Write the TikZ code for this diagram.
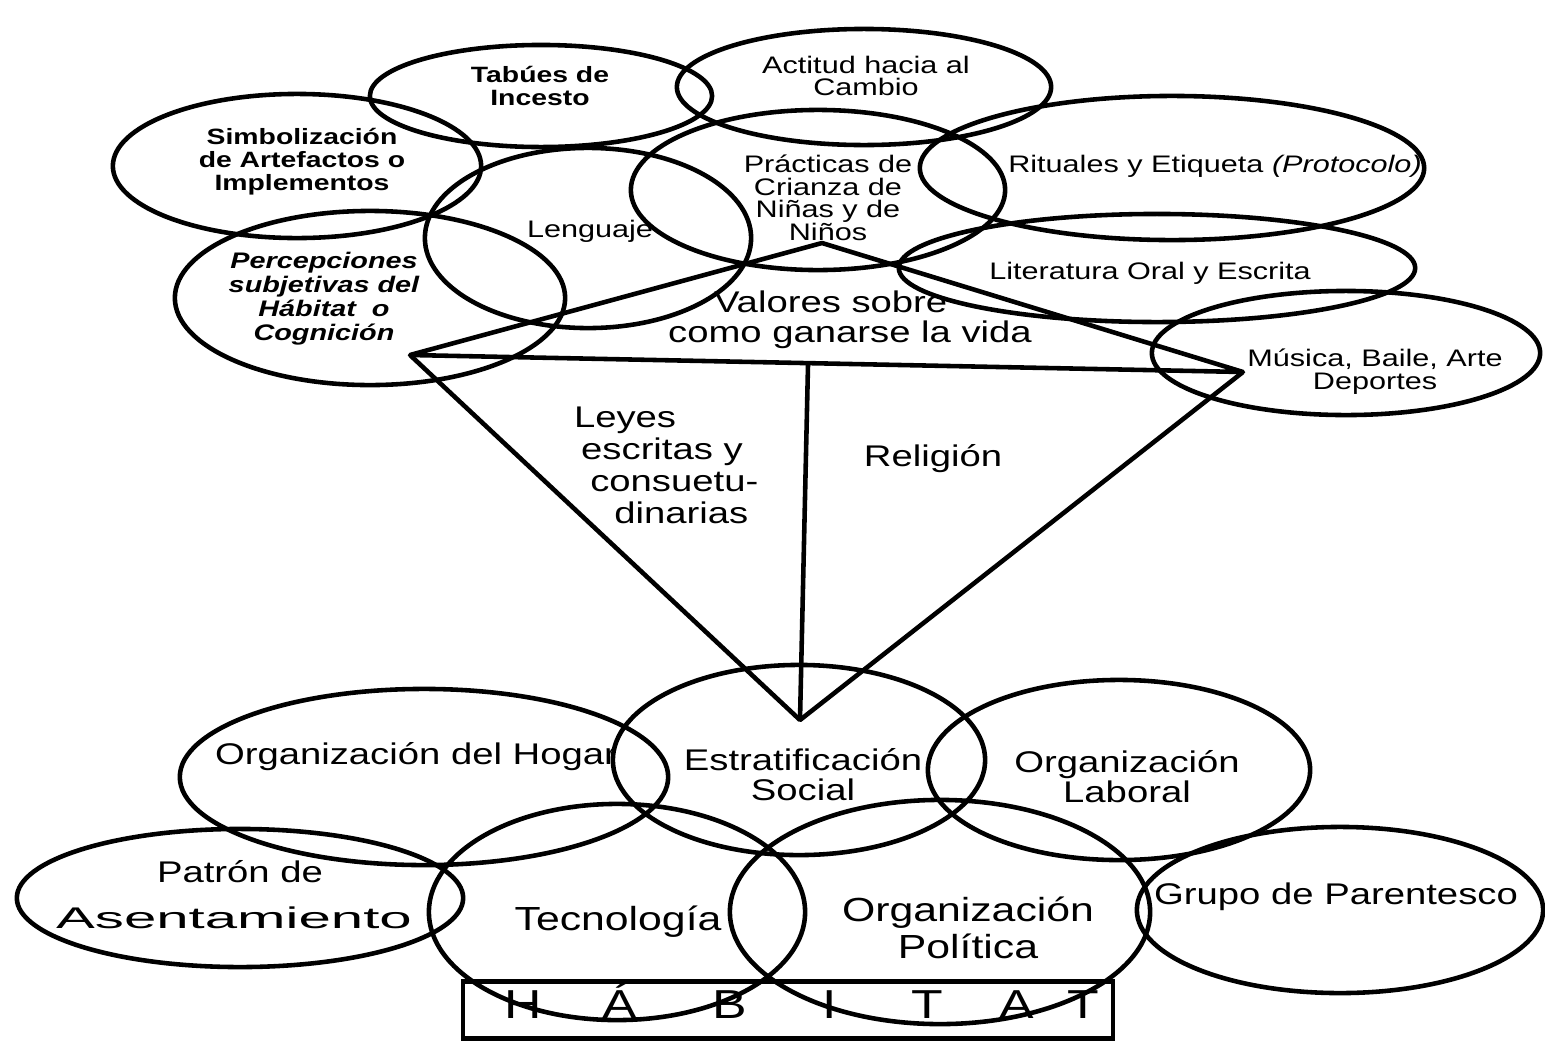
\documentclass[tikz,border=0pt]{standalone}
\usepackage{graphicx}
\usepackage{fontspec}
\setmainfont{Liberation Sans}
\newfontfamily\wfont[FakeStretch=1.28]{Liberation Sans}
\usetikzlibrary{shapes.geometric}

\begin{document}
\begin{tikzpicture}[x=0.01cm, y=-0.01cm,
    oval/.style 2 args={draw, ellipse, line width=1.3pt, minimum width=#1*0.02cm, minimum height=#2*0.02cm, inner sep=0pt},
    tiny/.style={font=\wfont\fontsize{6.8}{6.4}\selectfont, align=center, inner sep=0pt},
    tinyb/.style={font=\wfont\bfseries\fontsize{6.3}{6.5}\selectfont, align=center, inner sep=0pt},
    lbl/.style={font=\wfont\fontsize{8.5}{8.6}\selectfont, align=center, inner sep=0pt},
    lblbig/.style={font=\wfont\fontsize{9.5}{10.5}\selectfont, align=center, inner sep=0pt},
    hab/.style={font=\wfont\fontsize{11.5}{12}\selectfont, inner sep=0pt, anchor=base},
    tri/.style={line width=1.3pt, line join=round}
]
\useasboundingbox (0,0) rectangle (1545,1048);

% ovalos de arriba
\node[oval={171}{51}] (tabues) at (541,96) {};
\node[oval={187}{58}] (actitud) at (864,87) {};
\node[oval={184}{72}] (simbol) at (297,166) {};
\node[oval={195}{87}] (percep) at (370,298) {};
\node[oval={163}{90}] (lengua) at (588,238) {};
\node[oval={187}{80}] (crianza) at (818,190) {};
\node[oval={252}{72}] (ritual) at (1172,168) {};
\node[oval={258}{54}] (litera) at (1157,268) {};
\node[oval={194}{62}] (musica) at (1346,353) {};

\node[tinyb] (t-tabues) at (540,86) {Tabúes de\\Incesto};
\node[tiny] (t-actitud) at (866,76) {Actitud hacia al\\Cambio};
\node[tinyb] (t-simbol) at (302,162) {Simbolización\\de Artefactos o\\Implementos};
\node[tinyb, font=\wfont\bfseries\itshape\fontsize{6.4}{6.8}\selectfont] (t-percep) at (324,299) {Percepciones\\subjetivas del\\Hábitat\ \ o\\Cognición};
\node[tiny] (t-lengua) at (590,231) {Lenguaje};
\node[tiny] (t-crianza) at (828,198) {Prácticas de\\Crianza de\\Niñas y de\\Niños};
\node[tiny] (t-ritual) at (1215,166) {Rituales y Etiqueta \textit{(Protocolo)}};
\node[tiny] (t-litera) at (1150,273) {Literatura Oral y Escrita};
\node[tiny, font=\wfont\fontsize{6.8}{5.2}\selectfont] (t-musica) at (1375,372) {Música, Baile, Arte\\Deportes};

% triangulo
\coordinate (tl) at (410,355);
\coordinate (tr) at (1243,372);
\coordinate (roof) at (822,243);
\coordinate (apex) at (800,720);
\coordinate (mid) at (808,365);
\draw[tri] (tl) -- (roof) -- (tr) -- cycle;
\draw[tri] (tl) -- (apex) -- (tr);
\draw[tri] (mid) -- (apex);

\node[lbl] (t-valores) at (850,320) {Valores sobre\hspace*{11pt}\\como ganarse la vida};
\node[lbl, font=\wfont\fontsize{8.5}{9.1}\selectfont] (t-leyes) at (662,465) {Leyes\hspace*{21pt}\\escritas y\hspace*{6pt}\\\hspace*{7pt}consuetu-\\\hspace*{11pt}dinarias};
\node[lbl] (t-relig) at (933,459) {Religión};

% ovalos de abajo
\node[oval={244}{88}] (hogar) at (424,777) {};
\node[oval={186}{95}] (estrat) at (799,760) {};
\node[oval={191}{90}] (laboral) at (1119,770) {};
\node[oval={223}{69}] (patron) at (240,898) {};
\node[oval={188}{108}] (tecno) at (617,912) {};
\node[oval={210}{112}] (polit) at (940,912) {};
\node[oval={203}{83}] (grupo) at (1340,910) {};

\node[lbl] (t-hogar) at (416,757) {Organización del Hogar};
\node[lbl] (t-estrat) at (803,775) {Estratificación\\Social};
\node[lbl] (t-laboral) at (1127,777) {Organización\\Laboral};
\node[lbl] (t-patron) at (240,872) {Patrón de};
\node[lbl] (t-asent) at (234,918) {\scalebox{1.52}[1]{Asentamiento}};
\node[lblbig] (t-tecno) at (618,922) {Tecnología};
\node[lblbig] (t-polit) at (968,928) {Organización\\Política};
\node[lbl] (t-grupo) at (1336,897) {Grupo de Parentesco};

% habitat
\node[draw, line width=1.3pt, minimum width=6.5cm, minimum height=0.57cm, inner sep=0pt] (habitat) at (788,1010) {};
\foreach \ch/\px in {H/523, Á/620, B/730, I/830, T/927, A/1017, T/1083}
  \node[hab] (h\px) at (\px,1018) {\ch};
\end{tikzpicture}
\end{document}
